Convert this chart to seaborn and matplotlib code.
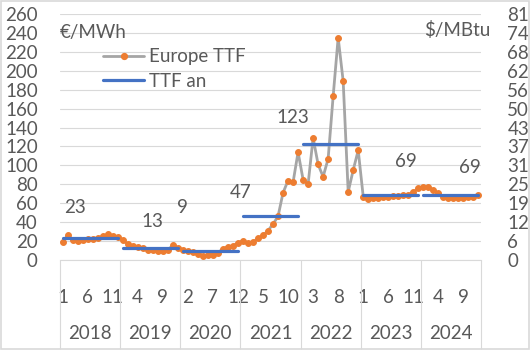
import numpy as np
import pandas as pd
import matplotlib
matplotlib.use("Agg")
import matplotlib.pyplot as plt
from matplotlib.lines import Line2D
from matplotlib.patches import Rectangle
import seaborn as sns

# Monthly TTF prices, EUR/MWh
ttf_2018 = [18.5, 26, 21, 20, 21, 22, 22.5, 23, 25, 27, 25, 24]
ttf_2019 = [21, 17, 15, 14, 13, 10.5, 10.5, 10, 10, 10.5, 15.5, 13]
ttf_2020 = [11, 9.5, 8, 6.5, 4.5, 5, 5.5, 7.5, 12, 14, 15, 18]
ttf_2021 = [20.5, 17.5, 19, 23, 26, 31, 38, 46, 71, 84, 82, 114]
ttf_2022 = [85, 80, 129, 101, 88, 107, 173, 235, 189, 72, 95, 116]
ttf_2023 = [67, 64.5, 65.5, 66, 66.5, 67, 67.5, 68, 68.5, 69, 72, 76]
ttf_2024 = [77, 77, 74, 70.5, 67, 66, 65.5, 65.5, 66, 66.5, 67, 69]

years = [2018, 2019, 2020, 2021, 2022, 2023, 2024]
annual_avg = [23, 13, 9, 47, 123, 69, 69]
eurusd = 1.058  # used for the $/MBtu axis

monthly = ttf_2018 + ttf_2019 + ttf_2020 + ttf_2021 + ttf_2022 + ttf_2023 + ttf_2024
df = pd.DataFrame({"idx": np.arange(len(monthly)), "ttf": monthly})

# annual average as flat segment over each year
df_an = pd.DataFrame({
    "idx": np.arange(len(monthly)),
    "year": np.repeat(years, 12),
    "val": np.repeat(annual_avg, 12),
})

grey = "#a5a5a5"
orange = "#ed7d31"
blue = "#4472c4"
txt = "#595959"
grid = "#d9d9d9"

sns.set_style("white")
plt.rcParams["font.family"] = ["Lato", "DejaVu Sans"]
fs = 13.5

fig = plt.figure(figsize=(5.3, 3.5), dpi=100)
ax = fig.add_axes([60 / 530, 90 / 350, 421 / 530, 246 / 350])

sns.lineplot(data=df, x="idx", y="ttf", ax=ax, color=grey, lw=2.0,
             marker="o", markersize=4.2, markerfacecolor=orange,
             markeredgecolor=orange, zorder=3)
sns.lineplot(data=df_an, x="idx", y="val", units="year", estimator=None,
             ax=ax, color=blue, lw=2.3, zorder=4)

ax.set_xlim(-0.5, len(monthly) - 0.5)
ax.set_ylim(0, 260)
ax.set_yticks(np.arange(0, 261, 20))
ax.yaxis.grid(True, color=grid, lw=0.8)
ax.set_axisbelow(True)
for s in ["left", "right", "top"]:
    ax.spines[s].set_visible(False)
ax.spines["bottom"].set_color(grid)
ax.set_xlabel("")
ax.set_ylabel("")

ticks = np.arange(0, len(monthly), 5)
ax.set_xticks(ticks)
ax.set_xticklabels([str(i % 12 + 1) for i in ticks])
ax.tick_params(axis="x", length=0, pad=21, labelsize=fs, labelcolor=txt)
ax.tick_params(axis="y", length=0, pad=16, labelsize=fs, labelcolor=txt)

# year groups below month labels
xt = ax.get_xaxis_transform()
for k, y in enumerate(years):
    ax.text(12 * k + 5.5, -0.297, str(y), transform=xt, ha="center",
            va="center", fontsize=fs, color=txt)
ax.vlines(np.arange(0, len(years) + 1) * 12 - 0.5, -0.36, 0, transform=xt,
          color=grid, lw=0.8, clip_on=False)

# data labels for the yearly averages
label_x = [2.5, 18, 24, 35.5, 46, 68.5, 81.3]
label_dy = [32, 28, 47, 24, 28, 35, 29]
for lx, v, dy in zip(label_x, annual_avg, label_dy):
    ax.text(lx, v + dy, str(v), ha="center", va="center", fontsize=fs, color=txt)

# unit labels
ax.text(-0.5, 240, "€/MWh", ha="left", va="center", fontsize=fs, color=txt)
ax.text(1.021, 243, "$/MBtu", transform=ax.get_yaxis_transform(), ha="right",
        va="center", fontsize=fs, color=txt)

# secondary axis in $/MBtu
ax2 = ax.twinx()
factor = eurusd / 3.412
ax2.set_ylim(0, 260 * factor)
ax2.set_yticks(np.arange(0, 261, 20) * factor)
ax2.set_yticklabels([f"{v * factor:.0f}" for v in np.arange(0, 261, 20)])
ax2.tick_params(axis="y", length=0, pad=19, labelsize=fs, labelcolor=txt)
for s in ax2.spines.values():
    s.set_visible(False)

handles = [
    Line2D([], [], color=grey, lw=2.0, marker="o", markersize=4.2,
           markerfacecolor=orange, markeredgecolor=orange),
    Line2D([], [], color=blue, lw=2.3),
]
ax.legend(handles, ["Europe TTF", "TTF an"], loc="upper left",
          bbox_to_anchor=(0.102, 0.86), frameon=False, fontsize=fs,
          labelcolor=txt, handlelength=2.2, handletextpad=0.25,
          labelspacing=0.4, borderpad=0, borderaxespad=0)

fig.add_artist(Rectangle((0.002, 0.003), 0.996, 0.994, transform=fig.transFigure,
                         fill=False, edgecolor=grid, lw=1.2))

fig.savefig("out.png", dpi=100)
